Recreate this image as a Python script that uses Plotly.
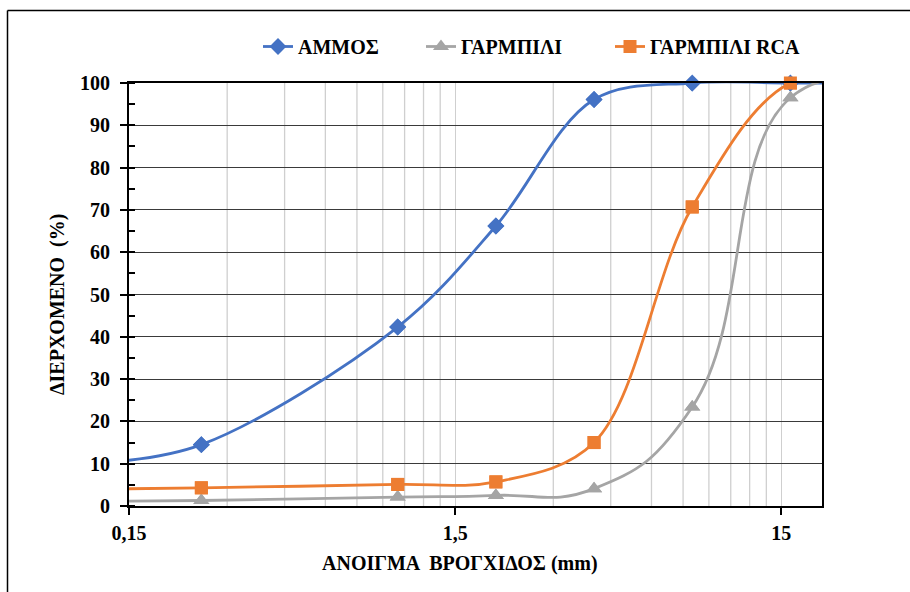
import math
import plotly.graph_objects as go

# Sieve openings (mm) and cumulative percent passing
sizes = [0.125, 0.25, 1, 2, 4, 8, 16, 31.5]
ammos = [10.3, 14.5, 42.3, 66.2, 96.1, 100, 100, 100]
garmpili = [1.1, 1.3, 2.1, 2.5, 4.1, 23.4, 96.5, 100]
garmpili_rca = [4.0, 4.3, 5.1, 5.7, 15.0, 70.7, 100, 100]

series_names = ["ΑΜΜΟΣ", "ΓΑΡΜΠΙΛΙ", "ΓΑΡΜΠΙΛΙ RCA"]
x_tick_vals = [0.15, 1.5, 15]
x_tick_text = ["0,15", "1,5", "15"]
x_min, x_max = 0.15, 20

FONT = "Liberation Serif"
colors = ["#4472C4", "#A5A5A5", "#ED7D31"]
symbols = ["diamond", "triangle-up", "square"]
msizes = [13, 14, 13]
smooth = [1.0, 1.3, 1.0]
legend_ids = ["legend", "legend2", "legend3"]
legend_px = [258, 421, 610]

W, H = 910, 592
L, R, T, B = 129, 88, 83, 86
pw, ph = W - L - R, H - T - B
GRID_GRAY = "#CFCFCF"


def px_to_paper_x(px):
    return (px - L) / pw


def px_to_paper_y(py):
    return (H - B - py) / ph


fig = go.Figure()

all_series = [ammos, garmpili, garmpili_rca]

# smoothed curves (clipped to the plot area), each with its own legend box
for name, ys, c, s, ms, sm, lg in zip(series_names, all_series, colors,
                                      symbols, msizes, smooth, legend_ids):
    fig.add_trace(go.Scatter(
        x=sizes, y=ys, name=name, mode="lines+markers", legend=lg,
        line=dict(color=c, width=2.8, shape="spline", smoothing=sm),
        marker=dict(symbol=s, size=ms, color=c),
        cliponaxis=True,
    ))

# markers for the sieves inside the axis range, drawn unclipped
for name, ys, c, s, ms in zip(series_names, all_series, colors, symbols, msizes):
    xs_in = [x for x in sizes if x_min <= x <= x_max]
    ys_in = [y for x, y in zip(sizes, ys) if x_min <= x <= x_max]
    fig.add_trace(go.Scatter(
        x=xs_in, y=ys_in, mode="markers", showlegend=False,
        marker=dict(symbol=s, size=ms, color=c),
        cliponaxis=False, hoverinfo="skip",
    ))

# minor vertical gridlines at multiples of each labelled opening
minor_vals = [round(b * k, 4) for b in (0.15, 1.5) for k in range(2, 10)]
grid_shapes = [
    dict(type="line", xref="x", yref="paper", x0=v, x1=v, y0=0, y1=1,
         layer="below", line=dict(color=GRID_GRAY, width=1.3))
    for v in minor_vals
]


def legend_box(px):
    return dict(
        orientation="h", x=px_to_paper_x(px), xanchor="left",
        y=px_to_paper_y(46.5), yanchor="middle",
        font=dict(family=FONT, size=20, color="black", weight="bold"),
        bgcolor="rgba(0,0,0,0)",
    )


frame_shapes = [
    dict(type="line", xref="paper", yref="paper",
         x0=px_to_paper_x(7.5), x1=px_to_paper_x(W + 10),
         y0=px_to_paper_y(10.5), y1=px_to_paper_y(10.5),
         line=dict(color="black", width=1.5)),
    dict(type="line", xref="paper", yref="paper",
         x0=px_to_paper_x(7.5), x1=px_to_paper_x(7.5),
         y0=px_to_paper_y(10.5), y1=px_to_paper_y(H + 10),
         line=dict(color="black", width=1.5)),
]

fig.update_layout(
    width=W, height=H,
    margin=dict(l=L, r=R, t=T, b=B),
    paper_bgcolor="white", plot_bgcolor="white",
    font=dict(family=FONT, size=20, color="black"),
    legend=legend_box(legend_px[0]),
    legend2=legend_box(legend_px[1]),
    legend3=legend_box(legend_px[2]),
    xaxis=dict(
        type="log", range=[math.log10(x_min), math.log10(x_max)],
        tickmode="array", tickvals=x_tick_vals, ticktext=x_tick_text,
        ticks="outside", ticklen=7, tickwidth=1.5, tickcolor="black",
        tickfont=dict(family=FONT, size=20, color="black", weight="bold"),
        ticklabelstandoff=1,
        showgrid=True, gridcolor=GRID_GRAY, gridwidth=1.3,
        showline=True, linecolor="black", linewidth=2, mirror=True,
        zeroline=False, layer="above traces",
    ),
    yaxis=dict(
        range=[0, 100], dtick=10, tick0=0,
        ticks="outside", ticklen=7, tickwidth=1.5, tickcolor="black",
        tickfont=dict(family=FONT, size=20, color="black", weight="bold"),
        ticklabelstandoff=6,
        showgrid=True, gridcolor="#3A3A3A", gridwidth=1.3,
        minor=dict(dtick=5, ticks="inside", ticklen=6, tickwidth=1.5,
                   tickcolor="black", showgrid=False),
        showline=True, linecolor="black", linewidth=2, mirror=True,
        zeroline=False,
    ),
    annotations=[
        dict(text="<b>ΑΝΟΙΓΜΑ  ΒΡΟΓΧΙΔΟΣ (mm)</b>", xref="paper", yref="paper",
             x=px_to_paper_x(460), y=px_to_paper_y(563),
             xanchor="center", yanchor="middle", showarrow=False,
             font=dict(family=FONT, size=20, color="black")),
        dict(text="<b>ΔΙΕΡΧΟΜΕΝΟ  (%)</b>", xref="paper", yref="paper",
             x=px_to_paper_x(57), y=px_to_paper_y(305), textangle=-90,
             xanchor="center", yanchor="middle", showarrow=False,
             font=dict(family=FONT, size=20, color="black")),
    ],
    shapes=grid_shapes + frame_shapes,
)

fig.write_html("out.html")
